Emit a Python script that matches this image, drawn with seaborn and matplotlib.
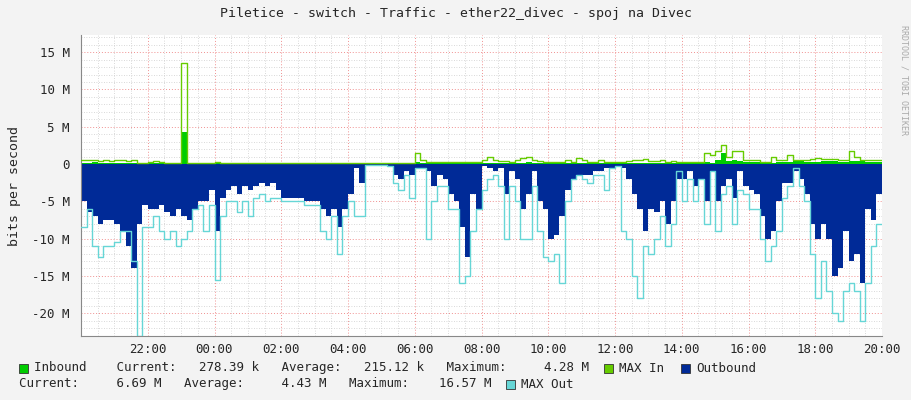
import numpy as np
import pandas as pd
import matplotlib
matplotlib.use("Agg")
import matplotlib.pyplot as plt
import seaborn as sns
from matplotlib.patches import Rectangle

# 10-minute steps, hours from 20:00
outbound = [5, 6.5, 7, 8, 7.5, 7.5, 8, 9, 11, 14, 8, 5.5,
            6, 6, 5.5, 6.5, 7, 6, 7, 7.5, 6, 5, 5, 3.5,
            9, 4.5, 3.5, 3, 4, 3, 3.5, 3, 2.5, 3, 2.5, 3.5,
            4.5, 4.5, 4.5, 4.5, 5, 5, 5, 6, 7, 6, 8.5, 6,
            4, 0.5, 2.5, 0.1, 0.1, 0.1, 0.1, 0.2, 1.5, 2, 1, 1.5,
            0.5, 0.5, 1, 3, 1.5, 2, 4, 5, 8.5, 12.5, 4, 6,
            0.3, 0.5, 1, 0.5, 4, 1, 2, 6, 4, 1, 5, 6,
            10, 9.5, 7, 3.5, 2, 1.5, 1.5, 1.5, 1, 1, 0.5, 0.5,
            0.2, 0.5, 2, 4, 6, 9, 6, 6.5, 5, 8, 5, 2,
            2, 1, 3, 2, 5, 1, 5, 3, 2, 4.5, 1, 3,
            3.5, 4, 7, 10, 9, 5, 2.5, 2.5, 1, 2, 4, 8,
            10, 8, 10, 15, 14, 9, 13, 12, 16, 6, 7.5, 4]
max_out = [8.5, 6, 11, 12.5, 11, 11, 10.5, 9, 9, 13, 23, 8.5,
           8.5, 7, 9, 10, 9, 11, 10, 9, 6, 5.5, 9, 5.5,
           15.5, 7, 5, 5, 6.5, 5, 7, 4.5, 4, 5, 4.5, 4.5,
           5, 5, 5, 5, 5.5, 5.5, 5.5, 9, 10, 7, 12, 7,
           5, 7, 7, 0.1, 0.1, 0.1, 0.1, 0.3, 2.5, 3.5, 1.5, 4.5,
           0.5, 0.5, 10, 5, 3, 3, 6, 6, 16, 15, 9, 6,
           3.5, 2, 1.5, 3, 10, 3, 5, 10, 10, 3, 9, 12.5,
           13, 12, 16, 5, 2, 1.5, 2, 2.5, 1.5, 1.5, 3.5, 0.5,
           0.2, 9, 10, 15, 18, 11, 12, 10, 7, 11, 8, 1,
           5, 2, 5, 2, 8, 1, 9, 4, 3, 8, 3.5, 4,
           6, 6, 10, 13, 11, 9, 4.5, 3, 0.5, 3, 5, 12,
           18, 13, 17, 20, 21, 17, 16, 17, 21, 16, 11, 8]
inbound = [0.2, 0.2, 0.3, 0.2, 0.2, 0.1, 0.2, 0.2, 0.2, 0.2, 0.1, 0.1,
           0.1, 0.1, 0.1, 0.1, 0.1, 0.1, 4.3, 0.1, 0.1, 0.1, 0.1, 0.1,
           0.1, 0.1, 0.1, 0.1, 0.1, 0.1, 0.1, 0.1, 0.1, 0.1, 0.1, 0.1,
           0.1, 0.1, 0.1, 0.1, 0.1, 0.1, 0.1, 0.1, 0.1, 0.1, 0.1, 0.1,
           0.1, 0.1, 0.1, 0.05, 0.05, 0.05, 0.05, 0.05, 0.1, 0.1, 0.1, 0.1,
           0.3, 0.1, 0.1, 0.1, 0.1, 0.1, 0.1, 0.1, 0.1, 0.1, 0.1, 0.1,
           0.1, 0.1, 0.1, 0.1, 0.1, 0.1, 0.1, 0.2, 0.3, 0.2, 0.1, 0.1,
           0.1, 0.1, 0.1, 0.1, 0.1, 0.2, 0.2, 0.1, 0.1, 0.1, 0.1, 0.1,
           0.1, 0.1, 0.1, 0.1, 0.2, 0.2, 0.1, 0.1, 0.1, 0.1, 0.1, 0.1,
           0.1, 0.1, 0.1, 0.1, 0.3, 0.2, 0.5, 1.5, 0.4, 0.6, 0.4, 0.3,
           0.3, 0.3, 0.2, 0.1, 0.2, 0.3, 0.3, 0.3, 0.5, 0.4, 0.3, 0.3,
           0.3, 0.4, 0.4, 0.4, 0.3, 0.3, 0.4, 0.4, 0.4, 0.3, 0.3, 0.3]
max_in = [0.5, 0.5, 0.5, 0.4, 0.5, 0.4, 0.5, 0.5, 0.4, 0.6, 0.2, 0.2,
          0.3, 0.4, 0.3, 0.2, 0.2, 0.2, 13.5, 0.2, 0.2, 0.2, 0.2, 0.2,
          0.3, 0.2, 0.2, 0.2, 0.2, 0.2, 0.2, 0.2, 0.2, 0.2, 0.2, 0.2,
          0.2, 0.2, 0.2, 0.2, 0.2, 0.2, 0.2, 0.2, 0.2, 0.2, 0.2, 0.2,
          0.2, 0.2, 0.2, 0.1, 0.1, 0.1, 0.1, 0.1, 0.2, 0.2, 0.2, 0.2,
          1.5, 0.5, 0.3, 0.3, 0.3, 0.3, 0.3, 0.3, 0.3, 0.3, 0.3, 0.3,
          0.5, 0.9, 0.5, 0.4, 0.4, 0.3, 0.5, 0.8, 1.0, 0.6, 0.4, 0.3,
          0.3, 0.3, 0.3, 0.5, 0.3, 0.8, 0.6, 0.3, 0.3, 0.6, 0.3, 0.3,
          0.3, 0.3, 0.4, 0.6, 0.5, 0.7, 0.4, 0.4, 0.5, 0.3, 0.4, 0.3,
          0.3, 0.3, 0.3, 0.3, 1.5, 1.2, 1.8, 2.5, 1.0, 1.8, 1.8, 0.6,
          0.5, 0.5, 0.3, 0.3, 1.0, 0.5, 0.5, 1.2, 0.6, 0.6, 0.5, 0.7,
          0.8, 0.7, 0.7, 0.7, 0.6, 0.6, 1.8, 1.0, 0.6, 0.5, 0.5, 0.5]
tick_labels = ["22:00", "00:00", "02:00", "04:00", "06:00", "08:00", "10:00",
               "12:00", "14:00", "16:00", "18:00", "20:00"]

n = len(outbound)
hours = np.arange(n + 1) / 6.0
def ext(a): return list(a) + [a[-1]]
df = pd.DataFrame({"h": hours, "out": -np.array(ext(outbound)), "maxout": -np.array(ext(max_out)),
                   "inb": ext(inbound), "maxin": ext(max_in)})

sns.set_style("white")
plt.rcParams['font.family'] = ['DejaVu Sans Mono', 'DejaVu Sans']
fig = plt.figure(figsize=(9.11, 4.0), dpi=100, facecolor="#F3F3F3")
ax = fig.add_axes([81/911, 64/400, 801/911, 301/400])
ax.set_facecolor("white")

C_OUT, C_MOUT, C_IN, C_MIN = "#002A97", "#66D6D6", "#00CC00", "#66CC00"
ax.fill_between(df.h, df.out, 0, step="post", color=C_OUT, lw=0, zorder=2)
ax.fill_between(df.h, df.inb, 0, step="post", color=C_IN, lw=0, zorder=2)
sns.lineplot(data=df, x="h", y="maxout", drawstyle="steps-post", color=C_MOUT, lw=1, ax=ax, zorder=3)
sns.lineplot(data=df, x="h", y="maxin", drawstyle="steps-post", color=C_MIN, lw=1, ax=ax, zorder=3)

ax.set_xlim(0, 24)
ax.set_ylim(-23.06, 17.3)
ax.set_xticks(np.arange(2, 25, 2))
ax.set_xticklabels(tick_labels)
ax.set_xticks(np.arange(0, 24, 0.5), minor=True)
ax.set_yticks(np.arange(-20, 16, 5))
ax.set_yticklabels([("%d M" % v) if v != 0 else "0" for v in range(-20, 16, 5)])
ax.set_yticks(np.arange(-23, 18, 1), minor=True)
ax.grid(which="minor", color="#CCCCCC", ls=(0, (1, 2)), lw=0.6, zorder=1)
ax.grid(which="major", color="#F09090", ls=(0, (1, 2)), lw=0.7, zorder=1)
ax.tick_params(which="both", length=2, color="#999999", labelsize=9, pad=3)
ax.tick_params(axis="y", pad=6)
for s in ["top", "right"]:
    ax.spines[s].set_visible(False)
for s in ["left", "bottom"]:
    ax.spines[s].set_color("#888888")
ax.axhline(0, color="#888888", lw=0.6, zorder=1)
ax.set_xlabel("")
ax.set_ylabel("bits per second", fontsize=9.5, labelpad=8)

fig.text(0.5, 0.965, "Piletice - switch - Traffic - ether22_divec - spoj na Divec",
         ha="center", va="center", fontsize=9.5)
fig.text(0.992, 0.8, "RRDTOOL / TOBI OETIKER", rotation=270, ha="center", va="center",
         fontsize=6, color="#AAAAAA")

def box(x, y, c):
    fig.patches.append(Rectangle((x/911, (400-y-5)/400), 9/911, 9/400, transform=fig.transFigure,
                                 facecolor=c, edgecolor="#333333", lw=0.6))
fs = 9
box(19, 368, C_IN)
fig.text(34/911, 1-368/400, "Inbound    Current:   278.39 k   Average:   215.12 k   Maximum:     4.28 M",
         fontsize=fs, va="center")
box(604, 368, C_MIN)
fig.text(619/911, 1-368/400, "MAX In", fontsize=fs, va="center")
box(681, 368, C_OUT)
fig.text(696/911, 1-368/400, "Outbound", fontsize=fs, va="center")
fig.text(19/911, 1-384/400, "Current:     6.69 M   Average:     4.43 M   Maximum:    16.57 M",
         fontsize=fs, va="center")
box(506, 384, C_MOUT)
fig.text(521/911, 1-384/400, "MAX Out", fontsize=fs, va="center")

fig.savefig("out.png", dpi=100, facecolor=fig.get_facecolor())
